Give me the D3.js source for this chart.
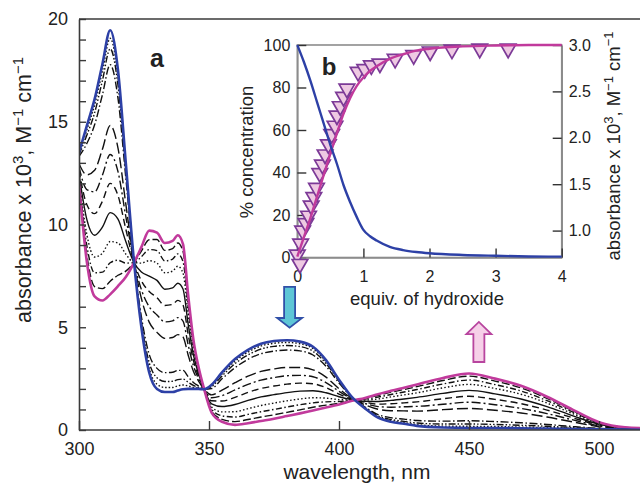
<!DOCTYPE html>
<html><head><meta charset="utf-8">
<script src="https://cdn.jsdelivr.net/npm/d3@7"></script>
<style>
body{margin:0;background:#fff}
svg{display:block}
text{font-family:"Liberation Sans",Arial,Helvetica,sans-serif;fill:#222}
</style>
</head><body>
<svg id="c" width="640" height="485"></svg>
<script>
// ---------- Panel a: spectra (absorbance x10^3 vs wavelength) ----------
const wavelengths = [300,303,306,309,312,315,318,321,324,327,330,333,336,338,340,342,344,346,348,351,355,360,365,370,375,380,385,390,395,400,405,410,415,420,425,430,440,450,460,470,480,490,500,510,520];
const specStart = [13.5,14.8,16.1,17.8,19.45,17.5,13.0,8.4,5.0,2.8,2.0,1.85,1.85,1.92,1.98,2.0,2.0,2.0,1.98,2.2,2.8,3.45,3.9,4.2,4.33,4.37,4.3,4.05,3.4,2.45,1.6,1.05,0.6,0.4,0.3,0.2,0.12,0.1,0.1,0.08,0.07,0.05,0.04,0.02,0.01];
const specEnd = [12.0,8.2,6.5,6.3,6.6,7.0,7.45,8.1,8.9,9.7,9.6,9.1,9.2,9.48,9.05,6.55,4.4,3.05,2.05,0.85,0.4,0.25,0.33,0.44,0.55,0.68,0.81,0.95,1.09,1.24,1.42,1.56,1.74,1.91,2.06,2.21,2.53,2.75,2.5,2.15,1.62,0.98,0.38,0.13,0.08];
const spec1 = [13.46,14.60,15.81,17.46,19.06,17.19,12.83,8.39,5.12,3.00,2.23,2.07,2.07,2.15,2.19,2.14,2.07,2.03,1.98,2.16,2.73,3.35,3.79,4.09,4.22,4.26,4.20,3.96,3.33,2.41,1.59,1.07,0.63,0.45,0.35,0.26,0.19,0.18,0.17,0.14,0.12,0.08,0.05,0.02,0.01];
const spec2 = [13.40,14.34,15.43,17.00,18.55,16.77,12.61,8.38,5.27,3.28,2.54,2.36,2.37,2.45,2.48,2.32,2.17,2.07,1.99,2.11,2.63,3.23,3.65,3.94,4.07,4.11,4.06,3.83,3.24,2.37,1.59,1.09,0.68,0.51,0.42,0.34,0.29,0.29,0.27,0.23,0.18,0.12,0.06,0.03,0.02];
const spec3 = [13.31,13.94,14.85,16.31,17.78,16.14,12.28,8.36,5.51,3.68,3.00,2.79,2.81,2.90,2.90,2.59,2.31,2.14,1.99,2.02,2.49,3.03,3.44,3.71,3.84,3.89,3.85,3.65,3.10,2.29,1.58,1.12,0.75,0.60,0.53,0.46,0.43,0.45,0.41,0.35,0.27,0.17,0.08,0.03,0.02];
const spec4 = [12.96,12.42,12.64,13.66,14.82,13.72,11.00,8.29,6.40,5.25,4.75,4.46,4.50,4.64,4.53,3.64,2.86,2.38,2.01,1.71,1.94,2.30,2.62,2.85,2.97,3.04,3.04,2.93,2.57,2.01,1.54,1.23,1.01,0.94,0.93,0.92,0.99,1.05,0.96,0.83,0.63,0.39,0.16,0.06,0.04];
const spec5 = [12.80,11.70,11.59,12.40,13.41,12.57,10.39,8.26,6.83,6.00,5.60,5.26,5.31,5.47,5.30,4.14,3.13,2.49,2.01,1.57,1.67,1.95,2.22,2.43,2.55,2.64,2.66,2.59,2.31,1.88,1.52,1.29,1.14,1.11,1.13,1.15,1.25,1.35,1.23,1.05,0.80,0.49,0.20,0.07,0.04];
const spec6 = [12.63,10.97,10.53,11.13,12.00,11.41,9.78,8.23,7.26,6.74,6.44,6.06,6.11,6.31,6.08,4.64,3.39,2.61,2.02,1.42,1.41,1.59,1.83,2.02,2.14,2.23,2.28,2.25,2.06,1.75,1.50,1.35,1.26,1.28,1.32,1.37,1.52,1.64,1.49,1.28,0.97,0.59,0.24,0.08,0.05];
const spec7 = [12.47,10.25,9.48,9.87,10.58,10.26,9.17,8.19,7.69,7.49,7.28,6.85,6.92,7.14,6.86,5.14,3.66,2.72,2.03,1.27,1.14,1.24,1.44,1.61,1.72,1.82,1.89,1.91,1.81,1.62,1.48,1.40,1.39,1.44,1.51,1.59,1.78,1.93,1.76,1.51,1.14,0.69,0.28,0.10,0.06];
const spec8 = [12.30,9.52,8.42,8.60,9.17,9.10,8.56,8.16,8.12,8.24,8.12,7.65,7.73,7.97,7.64,5.64,3.92,2.84,2.04,1.12,0.88,0.89,1.04,1.19,1.31,1.42,1.51,1.57,1.55,1.48,1.46,1.46,1.51,1.61,1.71,1.81,2.05,2.22,2.02,1.74,1.31,0.79,0.31,0.11,0.07];
const spec9 = [12.18,8.99,7.65,7.68,8.14,8.26,8.12,8.14,8.43,8.78,8.73,8.23,8.32,8.57,8.20,6.00,4.11,2.92,2.04,1.01,0.69,0.63,0.76,0.89,1.00,1.12,1.23,1.32,1.37,1.39,1.44,1.50,1.60,1.73,1.85,1.97,2.24,2.43,2.21,1.90,1.43,0.87,0.34,0.12,0.07];
const spec10 = [12.08,8.53,6.98,6.88,7.24,7.53,7.73,8.12,8.71,9.26,9.27,8.74,8.83,9.10,8.70,6.32,4.28,3.00,2.05,0.92,0.52,0.41,0.51,0.63,0.74,0.86,0.98,1.11,1.21,1.30,1.43,1.54,1.68,1.84,1.97,2.11,2.41,2.62,2.38,2.05,1.54,0.93,0.36,0.13,0.08];
const midSpectra = [spec1,spec2,spec3,spec4,spec5,spec6,spec7,spec8,spec9,spec10];
const yTicksA = [0,5,10,15,20];
const xTicksA = [300,350,400,450,500];

// ---------- Panel b: titration ----------
const equivGrid = [0,0.1,0.2,0.3,0.4,0.5,0.6,0.7,0.8,0.9,1.0,1.1,1.2,1.4,1.6,1.8,2.0,2.5,3.0,3.5,4.0];
const pctStart = [100,92,83,73,63,53,44,34,26,19,13,10,8,5,3.5,2.6,2.0,1.2,0.8,0.5,0.4];
const absFit = [0.72,0.93,1.14,1.37,1.60,1.83,2.05,2.26,2.43,2.56,2.65,2.72,2.77,2.85,2.90,2.94,2.96,2.985,2.995,3.0,3.0];
const equivObs = [0.00,0.04,0.05,0.08,0.13,0.17,0.21,0.25,0.29,0.34,0.38,0.42,0.47,0.52,0.57,0.60,0.65,0.70,0.75,0.92,1.02,1.12,1.25,1.48,1.76,2.01,2.34,2.76,3.19];
const absObs = [0.74,0.64,0.86,1.00,1.08,1.16,1.27,1.36,1.46,1.62,1.71,1.82,1.93,2.04,2.13,2.24,2.34,2.44,2.53,2.71,2.74,2.78,2.80,2.85,2.89,2.93,2.95,2.96,2.96];
const pctTicks = [0,20,40,60,80,100];
const absTicks = [1.0,1.5,2.0,2.5,3.0];
const equivTicks = [0,1,2,3,4];

// ---------- styles ----------
const BLUE = "#2d40a6", MAG = "#c13a9c";
const dashes = ["1.5,2","7,2,1.5,2,1.5,2","8,2.5,1.5,2.5","11,4","9,3,2,3","7,4",null,"1.5,2.2","6,2.5,1.5,2.5","8,3"];

const svg = d3.select("#c");

// main scales
const x = d3.scaleLinear().domain([300,520]).range([79,651]);
const y = d3.scaleLinear().domain([0,20]).range([430,19]);

svg.append("clipPath").attr("id","clipA").append("rect")
  .attr("x",79).attr("y",19).attr("width",572).attr("height",411);

const lineA = d3.line().x((d,i)=>x(wavelengths[i])).y(d=>y(d)).curve(d3.curveMonotoneX);
const gA = svg.append("g").attr("clip-path","url(#clipA)");
midSpectra.forEach((s,k)=>{
  gA.append("path").attr("d",lineA(s)).attr("fill","none")
    .attr("stroke","#111").attr("stroke-width",1.4)
    .attr("stroke-dasharray",dashes[k]);
});
gA.append("path").attr("d",lineA(specEnd)).attr("fill","none").attr("stroke",MAG).attr("stroke-width",2.6);
gA.append("path").attr("d",lineA(specStart)).attr("fill","none").attr("stroke",BLUE).attr("stroke-width",2.6);

// main axes
const axL = svg.append("g").attr("transform","translate(79,0)")
  .call(d3.axisLeft(y).tickValues(d3.range(0,21)).tickSize(-7).tickSizeOuter(0).tickPadding(11)
     .tickFormat(d=>yTicksA.includes(d)?d:""));
const axB = svg.append("g").attr("transform","translate(0,430)")
  .call(d3.axisBottom(x).tickValues(xTicksA).tickSize(-9).tickSizeOuter(0).tickPadding(12)
     .tickFormat(d3.format("d")));
[axL,axB].forEach(g=>{
  g.selectAll("path,line").attr("stroke","#3a3a3a").attr("stroke-width",1.4);
  g.selectAll("text").style("font-size","18px").attr("fill","#222");
  g.select(".domain").attr("stroke-width",1.6);
});
svg.append("line").attr("x1",79).attr("x2",640).attr("y1",19).attr("y2",19)
  .attr("stroke","#3a3a3a").attr("stroke-width",1.6);
axB.select(".domain").attr("d","M79,0H640");

// main titles
const yt = svg.append("text").attr("transform","translate(31,190) rotate(-90)")
  .attr("text-anchor","middle").style("font-size","21.5px");
yt.append("tspan").text("absorbance x 10");
yt.append("tspan").attr("dy",-8).style("font-size","15px").text("3");
yt.append("tspan").attr("dy",8).text(", M");
yt.append("tspan").attr("dy",-8).style("font-size","15px").text("−1");
yt.append("tspan").attr("dy",8).text(" cm");
yt.append("tspan").attr("dy",-8).style("font-size","15px").text("−1");
svg.append("text").attr("x",357).attr("y",479).attr("text-anchor","middle")
  .style("font-size","21px").text("wavelength, nm");
svg.append("text").attr("x",157).attr("y",67).attr("text-anchor","middle")
  .style("font-size","25px").style("font-weight","bold").text("a");

// arrows (annotations, positioned in data units)
function arrow(wl, vTail, vBase, vTip, fill, stroke){
  const cx = x(wl), sw = 5.5, hw = 12.5;
  const yTail = y(vTail), yBase = y(vBase), yTip = y(vTip);
  const p = d3.path();
  p.moveTo(cx-sw,yTail); p.lineTo(cx+sw,yTail); p.lineTo(cx+sw,yBase);
  p.lineTo(cx+hw,yBase); p.lineTo(cx,yTip); p.lineTo(cx-hw,yBase);
  p.lineTo(cx-sw,yBase); p.closePath();
  svg.append("path").attr("d",p.toString()).attr("fill",fill).attr("stroke",stroke)
    .attr("stroke-width",1.8).attr("stroke-linejoin","miter");
}
arrow(381, 6.96, 5.45, 4.98, "#5ec6d6", "#3050a8");
arrow(453.8, 3.31, 4.67, 5.26, "#f6d0e8", "#b8459f");

// ---------- inset ----------
const xi = d3.scaleLinear().domain([0,4]).range([297.3,561.7]);
const yl = d3.scaleLinear().domain([0,100]).range([257.5,45]);
const yr = d3.scaleLinear().domain([0.71,3.0]).range([257.5,45]);

svg.append("rect").attr("x",297.3).attr("y",45).attr("width",264.4).attr("height",212.5)
  .attr("fill","#fff").attr("stroke","#8c8c8c").attr("stroke-width",1.6);

const gIL = svg.append("g").attr("transform","translate(297.3,0)")
  .call(d3.axisLeft(yl).tickValues(pctTicks).tickSize(-9).tickSizeOuter(0).tickPadding(7)
    .tickFormat(d3.format("d")));
const gIR = svg.append("g").attr("transform","translate(561.7,0)")
  .call(d3.axisRight(yr).tickValues(absTicks).tickSize(-9).tickSizeOuter(0).tickPadding(7)
    .tickFormat(d3.format(".1f")));
const gIB = svg.append("g").attr("transform","translate(0,257.5)")
  .call(d3.axisBottom(xi).tickValues(equivTicks).tickSize(-9).tickSizeOuter(0).tickPadding(13)
    .tickFormat(d3.format("d")));
[gIL,gIR,gIB].forEach(g=>{
  g.select(".domain").attr("stroke","#8c8c8c").attr("stroke-width",1.6);
  g.selectAll(".tick line").attr("stroke","#333").attr("stroke-width",1.4);
  g.selectAll("text").style("font-size","16px").attr("fill","#222");
});

const lineP = d3.line().x((d,i)=>xi(equivGrid[i])).y(d=>yl(d)).curve(d3.curveMonotoneX);
const lineF = d3.line().x((d,i)=>xi(equivGrid[i])).y(d=>yr(d)).curve(d3.curveMonotoneX);

const tri = d3.symbol().type(d3.symbolTriangle).size(105);
svg.append("g").selectAll("path").data(equivObs).join("path")
  .attr("d",tri)
  .attr("transform",(d,i)=>`translate(${xi(d)},${yr(absObs[i])}) rotate(180)`)
  .attr("fill","#eec9e2").attr("stroke","#7c3a97").attr("stroke-width",1.7);

svg.append("path").attr("d",lineF(absFit)).attr("fill","none").attr("stroke",MAG).attr("stroke-width",2.4);
svg.append("path").attr("d",lineP(pctStart)).attr("fill","none").attr("stroke",BLUE).attr("stroke-width",2.4);

svg.append("text").attr("x",329).attr("y",75).attr("text-anchor","middle")
  .style("font-size","24px").style("font-weight","bold").text("b");

svg.append("text").attr("transform","translate(253,152) rotate(-90)").attr("text-anchor","middle")
  .style("font-size","18.5px").text("% concentration");
svg.append("text").attr("x",427).attr("y",305).attr("text-anchor","middle")
  .style("font-size","18.5px").text("equiv. of hydroxide");
const rt = svg.append("text").attr("transform","translate(620,146) rotate(-90)")
  .attr("text-anchor","middle").style("font-size","18.5px");
rt.append("tspan").text("absorbance x 10");
rt.append("tspan").attr("dy",-7).style("font-size","13px").text("3");
rt.append("tspan").attr("dy",7).text(", M");
rt.append("tspan").attr("dy",-7).style("font-size","13px").text("−1");
rt.append("tspan").attr("dy",7).text(" cm");
rt.append("tspan").attr("dy",-7).style("font-size","13px").text("−1");
</script>
</body></html>
